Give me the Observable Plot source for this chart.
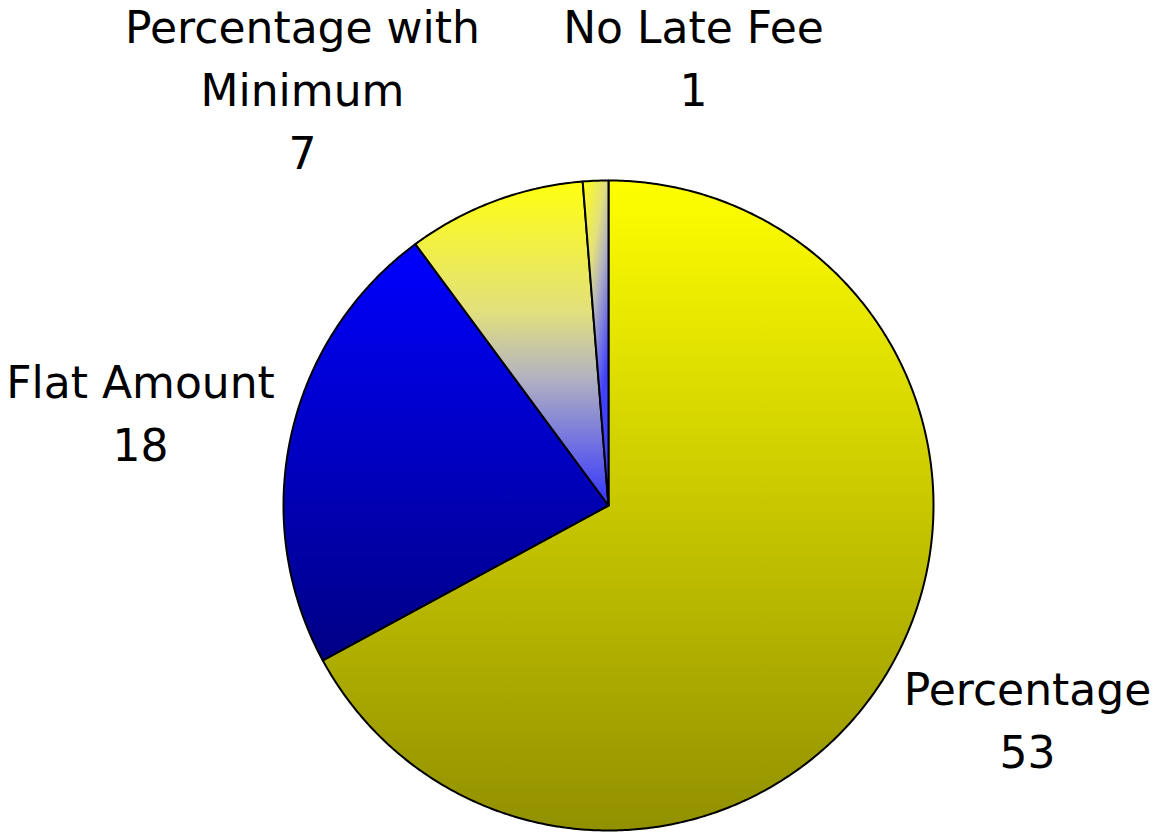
<!DOCTYPE html>
<html><head><meta charset="utf-8">
<script src="https://cdn.jsdelivr.net/npm/d3@7"></script>
<script src="https://cdn.jsdelivr.net/npm/@observablehq/plot@0.6"></script>
<style>html,body{margin:0;padding:0;background:#fff;} #chart{width:1155px;height:832px;}</style>
</head><body><div id="chart"></div>
<script>
// ---- data ----
const categories = ["Percentage", "Flat Amount", "Percentage with Minimum", "No Late Fee"];
const values = [53, 18, 7, 1];
const labelNames = ["Percentage", "Flat Amount", "Percentage with\nMinimum", "No Late Fee"];

// ---- layout (pixels) ----
const W = 1155, H = 832, CX = 608, CY = 505, R = 325;
const labelAnchors = [[1027, 767], [140, 460], [302, 168], [693, 105]]; // baseline of last line, centre x

// ---- gradients ----
const gradients = [
  {id: "g-pct", x2: 0, y2: 1, stops: [[0, "#ffff00"], [1, "#919000"]]},
  {id: "g-flat", x2: 0, y2: 1, stops: [[0, "#0000ff"], [1, "#000084"]]},
  {id: "g-min", x2: 0, y2: 1, stops: [[0, "#ffff10"], [0.4, "#e2e07c"], [0.6, "#b4b4c0"], [1, "#3434ff"]]},
  {id: "g-none", x2: 0.37, y2: 0.83, stops: [[0, "#ffff10"], [0.4, "#e2e07c"], [0.6, "#b4b4c0"], [1, "#4040ff"]]}
];

// ---- slices ----
const arcs = d3.pie().sort(null).value(d => d.value)(categories.map((name, i) => ({name, value: values[i]})));
const pts = [];
arcs.forEach(p => {
  const n = Math.max(2, Math.ceil((p.endAngle - p.startAngle) / (Math.PI / 360)));
  pts.push({name: p.data.name, x: 0, y: 0});
  for (let k = 0; k <= n; k++) {
    const a = p.startAngle + (p.endAngle - p.startAngle) * k / n;
    pts.push({name: p.data.name, x: Math.sin(a), y: -Math.cos(a)});
  }
});

const labels = categories.map((name, i) => ({
  name,
  text: labelNames[i] + "\n" + values[i],
  x: (labelAnchors[i][0] - CX) / R,
  y: (labelAnchors[i][1] - CY) / R
}));

const chart = Plot.plot({
  width: W, height: H,
  margin: 0,
  style: {background: "white"},
  x: {axis: null, domain: [-CX / R, (W - CX) / R], range: [0, W]},
  y: {axis: null, domain: [-CY / R, (H - CY) / R], range: [0, H]},
  color: {type: "ordinal", domain: categories, range: gradients.map(g => `url(#${g.id})`)},
  marks: [
    Plot.line(pts, {x: "x", y: "y", z: "name", fill: "name", stroke: "black", strokeWidth: 2,
      curve: "linear-closed", strokeLinejoin: "round"}),
    Plot.text(labels, {x: "x", y: "y", text: "text", fontSize: 44, lineHeight: 1.43,
      lineAnchor: "bottom", textAnchor: "middle", fontFamily: "DejaVu Sans", fill: "black"})
  ]
});

const defs = d3.select(chart).insert("defs", ":first-child");
gradients.forEach(g => {
  const lg = defs.append("linearGradient").attr("id", g.id)
    .attr("x1", 0).attr("y1", 0).attr("x2", g.x2).attr("y2", g.y2);
  g.stops.forEach(([o, c]) => lg.append("stop").attr("offset", o).attr("stop-color", c));
});

document.getElementById("chart").appendChild(chart);
</script>
</body></html>
